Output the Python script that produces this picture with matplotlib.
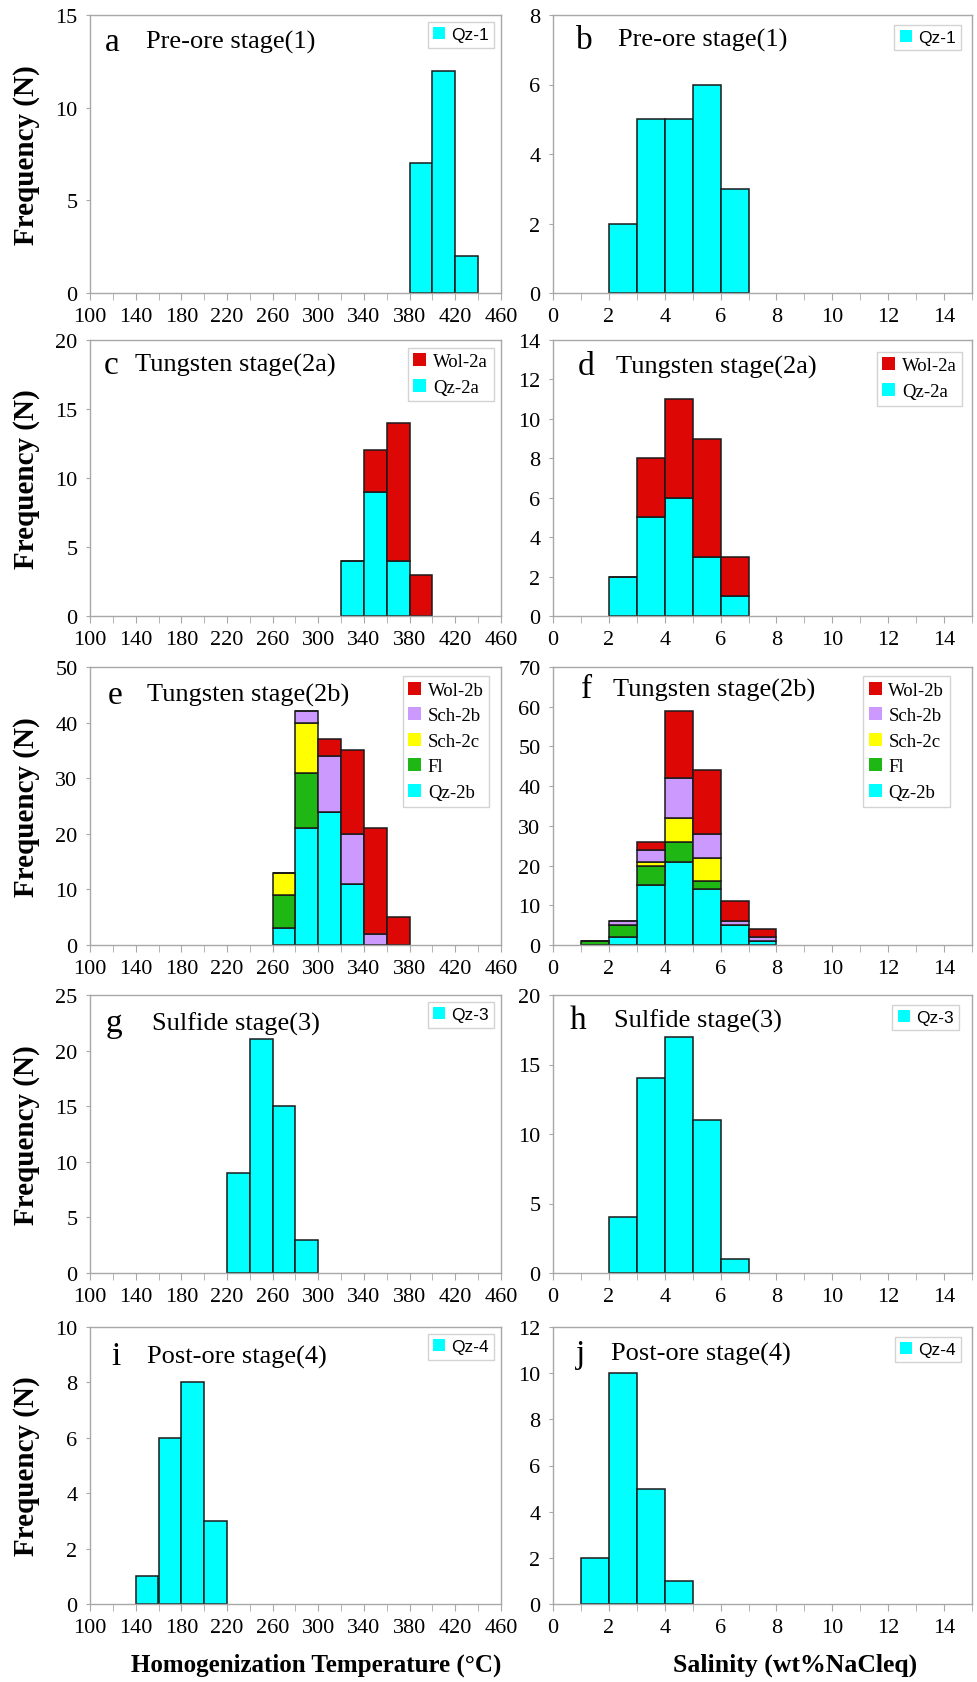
"""Fluid inclusion histograms: homogenization temperature & salinity by stage"""
import matplotlib
matplotlib.use("Agg")
import matplotlib.pyplot as plt
from matplotlib.patches import Patch
from matplotlib.ticker import MultipleLocator
import numpy as np

# ── data: left bin edges + counts ──
# (a) pre-ore, temperature
a_bins = [380, 400, 420]
a_qz1 = [7, 12, 2]
# (b) pre-ore, salinity
b_bins = [2, 3, 4, 5, 6]
b_qz1 = [2, 5, 5, 6, 3]
# (c) tungsten 2a, temperature
c_bins = [320, 340, 360, 380]
c_qz2a = [4, 9, 4, 0]
c_wol2a = [0, 3, 10, 3]
# (d) tungsten 2a, salinity
d_bins = [2, 3, 4, 5, 6]
d_qz2a = [2, 5, 6, 3, 1]
d_wol2a = [0, 3, 5, 6, 2]
# (e) tungsten 2b, temperature
e_bins = [260, 280, 300, 320, 340, 360]
e_qz2b = [3, 21, 24, 11, 0, 0]
e_fl = [6, 10, 0, 0, 0, 0]
e_sch2c = [4, 9, 0, 0, 0, 0]
e_sch2b = [0, 2, 10, 9, 2, 0]
e_wol2b = [0, 0, 3, 15, 19, 5]
# (f) tungsten 2b, salinity
f_bins = [1, 2, 3, 4, 5, 6, 7]
f_qz2b = [0, 2, 15, 21, 14, 5, 1]
f_fl = [1, 3, 5, 5, 2, 0, 0]
f_sch2c = [0, 0, 1, 6, 6, 0, 0]
f_sch2b = [0, 1, 3, 10, 6, 1, 1]
f_wol2b = [0, 0, 2, 17, 16, 5, 2]
# (g) sulfide, temperature
g_bins = [220, 240, 260, 280]
g_qz3 = [9, 21, 15, 3]
# (h) sulfide, salinity
h_bins = [2, 3, 4, 5, 6]
h_qz3 = [4, 14, 17, 11, 1]
# (i) post-ore, temperature
i_bins = [140, 160, 180, 200]
i_qz4 = [1, 6, 8, 3]
# (j) post-ore, salinity
j_bins = [1, 2, 3, 4]
j_qz4 = [2, 10, 5, 1]

temp_ticks = [100, 140, 180, 220, 260, 300, 340, 380, 420, 460]
sal_ticks = [0, 2, 4, 6, 8, 10, 12, 14]

CYAN, RED, LAV, YEL, GRN = "#00ffff", "#dd0806", "#cc99ff", "#ffff00", "#1fb714"
SERIF = "Liberation Serif"
SANS = "Liberation Sans"
FRAME = "#a8a8a8"

W, H = 977, 1683
fig = plt.figure(figsize=(W / 100, H / 100), dpi=100)
fig.patch.set_facecolor("white")

cols = [(90, 501), (553, 972)]
rows = [(16, 294), (341, 617), (668, 946), (996, 1274), (1328, 1605)]


def make_ax(r, c):
    x0, x1 = cols[c]
    y0, y1 = rows[r]
    return fig.add_axes([x0 / W, 1 - y1 / H, (x1 - x0) / W, (y1 - y0) / H])


def style(ax, col, ymax, ystep):
    for s in ax.spines.values():
        s.set_color(FRAME)
        s.set_linewidth(1.0)
    if col == 0:
        ax.set_xlim(100, 460)
        ax.set_xticks(temp_ticks)
        ax.xaxis.set_minor_locator(MultipleLocator(20))
    else:
        ax.set_xlim(0, 15)
        ax.set_xticks(sal_ticks)
        ax.xaxis.set_minor_locator(MultipleLocator(1))
    ax.set_ylim(0, ymax)
    ax.set_yticks(np.arange(0, ymax + 0.1, ystep))
    ax.tick_params(axis="x", which="both", direction="out", length=5, color=FRAME,
                   pad=5, labelsize=16)
    ax.tick_params(axis="y", direction="out", length=3, color=FRAME, pad=6, labelsize=16)
    for lab in ax.get_xticklabels() + ax.get_yticklabels():
        lab.set_fontfamily(SERIF)


def heading(ax, letter, text, lx, tx, y=0.905):
    ax.text(lx, y, letter, transform=ax.transAxes, fontsize=24, family=SERIF,
            ha="left", va="center")
    ax.text(tx, y, text, transform=ax.transAxes, fontsize=19, family=SERIF,
            ha="left", va="center")


def stack(ax, bins, series, width):
    bottom = np.zeros(len(bins))
    for vals, color in series:
        ax.bar(bins, vals, width=width, bottom=bottom, align="edge", color=color,
               edgecolor="#1a1a1a", linewidth=1.1)
        bottom += np.array(vals)


def legend(ax, items, family, fs, anchor=(1.0, 1.0)):
    handles = [Patch(facecolor=c, edgecolor="none") for _, c in items]
    lg = ax.legend(handles, [l for l, _ in items], loc="upper right", bbox_to_anchor=anchor,
                   prop={"family": family, "size": fs}, frameon=True, fancybox=False,
                   edgecolor="#c8c8c8", handlelength=0.7, handleheight=0.7,
                   handletextpad=0.35, borderpad=0.3, labelspacing=0.45, borderaxespad=0.4)
    lg.get_frame().set_linewidth(1.0)


# a
ax = make_ax(0, 0)
stack(ax, a_bins, [(a_qz1, CYAN)], 20)
style(ax, 0, 15, 5)
heading(ax, "a", "Pre-ore stage(1)", 0.035, 0.136)
legend(ax, [("Qz-1", CYAN)], SANS, 12.5)

# b
ax = make_ax(0, 1)
stack(ax, b_bins, [(b_qz1, CYAN)], 1)
style(ax, 1, 8, 2)
heading(ax, "b", "Pre-ore stage(1)", 0.055, 0.155, 0.912)
legend(ax, [("Qz-1", CYAN)], SANS, 12.5, (0.99, 0.99))

# c
ax = make_ax(1, 0)
stack(ax, c_bins, [(c_qz2a, CYAN), (c_wol2a, RED)], 20)
style(ax, 0, 20, 5)
heading(ax, "c", "Tungsten stage(2a)", 0.034, 0.11, 0.91)
legend(ax, [("Wol-2a", RED), ("Qz-2a", CYAN)], SERIF, 13.5)

# d
ax = make_ax(1, 1)
stack(ax, d_bins, [(d_qz2a, CYAN), (d_wol2a, RED)], 1)
style(ax, 1, 14, 2)
heading(ax, "d", "Tungsten stage(2a)", 0.058, 0.15)
legend(ax, [("Wol-2a", RED), ("Qz-2a", CYAN)], SERIF, 13.5, (0.995, 0.985))

# e
stage2b = [("Wol-2b", RED), ("Sch-2b", LAV), ("Sch-2c", YEL), ("Fl", GRN), ("Qz-2b", CYAN)]
ax = make_ax(2, 0)
stack(ax, e_bins, [(e_qz2b, CYAN), (e_fl, GRN), (e_sch2c, YEL), (e_sch2b, LAV),
                   (e_wol2b, RED)], 20)
style(ax, 0, 50, 10)
heading(ax, "e", "Tungsten stage(2b)", 0.042, 0.139, 0.90)
legend(ax, stage2b, SERIF, 13.5, (0.99, 0.995))

# f
ax = make_ax(2, 1)
stack(ax, f_bins, [(f_qz2b, CYAN), (f_fl, GRN), (f_sch2c, YEL), (f_sch2b, LAV),
                   (f_wol2b, RED)], 1)
style(ax, 1, 70, 10)
heading(ax, "f", "Tungsten stage(2b)", 0.067, 0.143, 0.92)
legend(ax, stage2b, SERIF, 13.5, (0.965, 0.995))

# g
ax = make_ax(3, 0)
stack(ax, g_bins, [(g_qz3, CYAN)], 20)
style(ax, 0, 25, 5)
heading(ax, "g", "Sulfide stage(3)", 0.039, 0.15, 0.90)
legend(ax, [("Qz-3", CYAN)], SANS, 12.5)

# h
ax = make_ax(3, 1)
stack(ax, h_bins, [(h_qz3, CYAN)], 1)
style(ax, 1, 20, 5)
heading(ax, "h", "Sulfide stage(3)", 0.04, 0.146, 0.91)
legend(ax, [("Qz-3", CYAN)], SANS, 12.5, (0.985, 0.99))

# i
ax = make_ax(4, 0)
stack(ax, i_bins, [(i_qz4, CYAN)], 20)
style(ax, 0, 10, 2)
heading(ax, "i", "Post-ore stage(4)", 0.053, 0.139, 0.895)
legend(ax, [("Qz-4", CYAN)], SANS, 12.5)

# j
ax = make_ax(4, 1)
stack(ax, j_bins, [(j_qz4, CYAN)], 1)
style(ax, 1, 12, 2)
heading(ax, "j", "Post-ore stage(4)", 0.055, 0.138, 0.905)
legend(ax, [("Qz-4", CYAN)], SANS, 12.5, (0.99, 0.99))

# y labels (left column only) and x labels
for y0, y1 in rows:
    fig.text(27 / W, 1 - (y0 + y1) / 2 / H, "Frequency (N)", rotation=90, ha="center",
             va="center", fontsize=21, fontweight="bold", family=SERIF)
fig.text(316 / W, 1 - 1665 / H, "Homogenization Temperature (°C)", ha="center",
         va="center", fontsize=18, fontweight="bold", family=SERIF)
fig.text(795 / W, 1 - 1665 / H, "Salinity (wt%NaCleq)", ha="center", va="center",
         fontsize=18.5, fontweight="bold", family=SERIF)

plt.savefig("out.png", dpi=100)
plt.close()
